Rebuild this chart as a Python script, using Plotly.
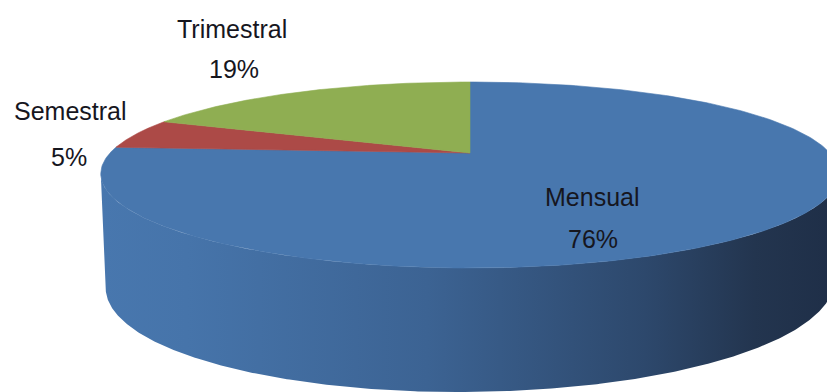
import numpy as np
import plotly.graph_objects as go

# ---- data ----
categories = ["Mensual", "Semestral", "Trimestral"]
values = [76, 5, 19]

# ---- styles ----
top_colors = ["#4877ae", "#ac4a47", "#8fae52"]
side_scale = [[0.0, "#4877ae"], [0.12, "#4674aa"], [0.45, "#3c6393"],
              [0.75, "#2d486c"], [0.9, "#23354f"], [1.0, "#1f2f48"]]
label_pos = {  # (x, y of name line), (x, y of percent line)
    "Mensual": ((592, 197), (593, 239)),
    "Semestral": ((70, 111), (69, 157)),
    "Trimestral": ((232, 29), (234, 69)),
}

W, H = 827, 392
CX, CY = 470, 153
A0, AK = 360, 84
B0, BK = 93, 22
HC, HS, HK = 106, 18, 4
DXK = 5


def top(t):
    t = np.asarray(t, dtype=float)
    a = A0 - AK * np.sin(t)
    b = B0 - BK * np.sin(t)
    return CX + a * np.cos(t), CY - b * np.sin(t)


def bottom(t):
    x, y = top(t)
    t = np.asarray(t, dtype=float)
    depth = HC - HS * np.sin(t) - HK * np.cos(t)
    return x - DXK * np.cos(t), y + depth


fig = go.Figure()

# side wall (front), bounded by silhouette points
tl_grid = np.linspace(np.pi / 2, 3 * np.pi / 2, 2001)
tL = tl_grid[np.argmin(top(tl_grid)[0])]
tr_grid = np.linspace(3 * np.pi / 2, 5 * np.pi / 2, 2001)
tR = tr_grid[np.argmax(top(tr_grid)[0])]
ts = np.linspace(tL, tR, 400)
xt, yt = top(ts)
xb, yb = bottom(ts[::-1])
fig.add_trace(go.Scatter(
    x=np.concatenate([xt, xb]), y=np.concatenate([yt, yb]),
    mode="lines", fill="toself", line=dict(width=0),
    fillgradient=dict(type="horizontal", colorscale=side_scale, start=100, stop=827),
    hoverinfo="skip", showlegend=False))

# top face slices: start at 12 o'clock, clockwise
total = float(sum(values))
cum = 0.0
for cat, v, col in zip(categories, values, top_colors):
    t0 = np.pi / 2 - 2 * np.pi * cum / total
    t1 = np.pi / 2 - 2 * np.pi * (cum + v) / total
    cum += v
    tt = np.linspace(t0, t1, 300)
    xa, ya = top(tt)
    fig.add_trace(go.Scatter(
        x=np.concatenate([[CX], xa, [CX]]), y=np.concatenate([[CY], ya, [CY]]),
        mode="lines", fill="toself", fillcolor=col, line=dict(width=0.6, color=col),
        hoverinfo="skip", showlegend=False))

font = dict(family="Liberation Sans, Arial, sans-serif", size=25, color="#16161e")
for cat, v in zip(categories, values):
    (nx, ny), (px, py) = label_pos[cat]
    pct = f"{round(100 * v / total)}%"
    fig.add_annotation(x=nx, y=ny, text=cat, showarrow=False, font=font,
                       xref="x", yref="y", xanchor="center", yanchor="middle")
    fig.add_annotation(x=px, y=py, text=pct, showarrow=False, font=font,
                       xref="x", yref="y", xanchor="center", yanchor="middle")

fig.update_layout(
    width=W, height=H, margin=dict(l=0, r=0, t=0, b=0),
    paper_bgcolor="white", plot_bgcolor="white",
    xaxis=dict(range=[0, W], visible=False, fixedrange=True),
    yaxis=dict(range=[H, 0], visible=False, fixedrange=True),
)

fig.write_html("out.html", config={"displayModeBar": False},
               post_script="document.body.style.margin='0';document.body.style.overflow='hidden';")
